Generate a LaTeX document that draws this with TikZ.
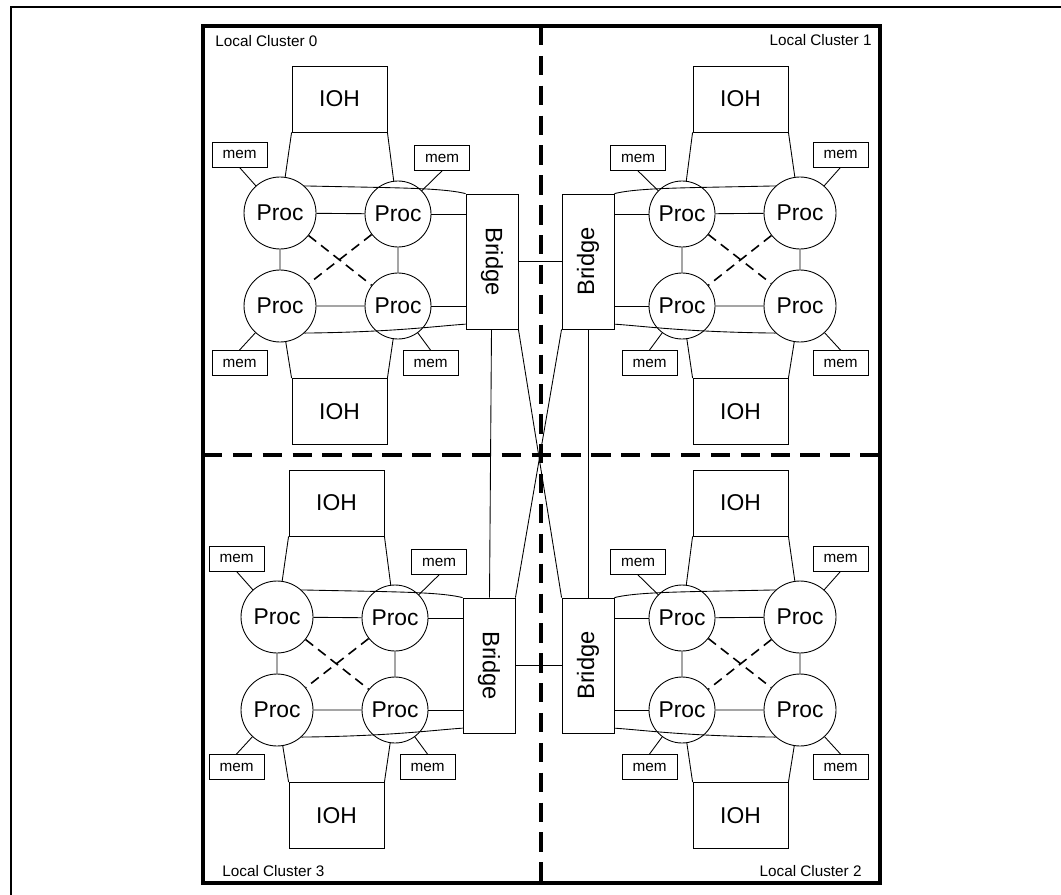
\documentclass[tikz,border=0pt]{standalone}
\usepackage{fontspec}
\setmainfont{Liberation Sans}
\usepackage{graphicx}
\usepackage{tikz}

% one cluster, drawn with the bridge on the right; xscale=-1 mirrors it
\newcommand{\drawcluster}[3]{%
  \ifnum#3<0
    \def\clout{east}\def\clin{west}\def\clrot{90}\def\clup{132}\def\cldn{228}%
  \else
    \def\clout{west}\def\clin{east}\def\clrot{-90}\def\clup{48}\def\cldn{312}%
  \fi
  \begin{scope}[shift={#2}, xscale=#3]
    \node[ioh] (#1ioh1) at (339.5,99) {IOH};
    \node[ioh] (#1ioh2) at (339.5,411.5) {IOH};
    \node[mem] (#1mem1) at (239.5,154.5) {mem};
    \node[mem] (#1mem2) at (442,158) {mem};
    \node[mem] (#1mem3) at (239.5,363) {mem};
    \node[mem] (#1mem4) at (430.5,363) {mem};
    \node[proc, minimum size=1.44cm] (#1proc1) at (280,213) {Proc};
    \node[proc, minimum size=1.32cm] (#1proc2) at (398,214) {Proc};
    \node[proc, minimum size=1.44cm] (#1proc3) at (280,306) {Proc};
    \node[proc, minimum size=1.32cm] (#1proc4) at (398,306) {Proc};
    \node[bridge] (#1br) at (492,261.5) {\rotatebox{\clrot}{Bridge}};
    \draw (#1ioh1.south \clout) -- (#1proc1) (#1ioh1.south \clin) -- (#1proc2);
    \draw (#1ioh2.north \clout) -- (#1proc3) (#1ioh2.north \clin) -- (#1proc4);
    \draw (#1mem1.south) -- (#1proc1) (#1mem2.south) -- (#1proc2);
    \draw (#1mem3.north) -- (#1proc3) (#1mem4.north) -- (#1proc4);
    \draw (#1proc1) -- (#1proc2) -- (#1proc4) -- (#1proc3) -- (#1proc1);
    \draw[crosslink] (#1proc1) -- (#1proc4) (#1proc2) -- (#1proc3);
    \draw (#1proc2) -- (#1proc2 -| #1br.\clout) (#1proc4) -- (#1proc4 -| #1br.\clout);
    \draw (#1proc1.\clup) .. controls +(90,2) and +(-25,-6) .. (#1br.north \clout);
    \draw (#1proc3.\cldn) .. controls +(90,-1) and +(-30,2) .. ([yshift=3pt]#1br.south \clout);
  \end{scope}}

\begin{document}
\begin{tikzpicture}[x=0.02cm, y=-0.02cm, line width=0.5pt,
    unitbox/.style={draw, inner sep=0pt},
    ioh/.style={unitbox, minimum width=1.9cm, minimum height=1.32cm,
                font=\fontsize{13}{15}\selectfont},
    mem/.style={unitbox, minimum width=1.1cm, minimum height=0.5cm,
                font=\fontsize{8.7}{10}\selectfont},
    proc/.style={draw, circle, inner sep=0pt, font=\fontsize{13}{15}\selectfont},
    bridge/.style={unitbox, minimum width=1.04cm, minimum height=2.7cm,
                   font=\fontsize{13.5}{15}\selectfont},
    crosslink/.style={line width=0.9pt, dash pattern=on 5.5pt off 3.5pt},
    divider/.style={line width=2pt, dash pattern=on 11pt off 6pt},
    clname/.style={inner sep=0pt, font=\fontsize{8.7}{10}\selectfont}]
  \useasboundingbox (0,0) rectangle (1061,895);

  % outer page frame (cut off on the right and at the bottom)
  \draw[line width=1.4pt] (11,1000) -- (11,7) -- (1100,7);
  \draw[line width=1.8pt] (203,26) rectangle (880,883);

  \drawcluster{c0}{(0,0)}{1}
  \drawcluster{c1}{(1080,0)}{-1}
  \drawcluster{c2}{(1080,404)}{-1}
  \drawcluster{c3}{(-3,404)}{1}

  % bridges
  \draw (c0br) -- (c1br);
  \draw (c3br) -- (c2br);
  \draw (c0br) -- (c3br);
  \draw (c1br) -- (c2br);
  \draw (c0br.south east) -- (c2br.north west);
  \draw (c1br.south west) -- (c3br.north east);

  \draw[divider] (541,26) -- (541,886);
  \draw[divider] (203,455) -- (880,455);

  \node[clname, anchor=base west] (lc0) at (215,47) {Local Cluster 0};
  \node[clname, anchor=base east] (lc1) at (872,46) {Local Cluster 1};
  \node[clname, anchor=base east] (lc2) at (862,876) {Local Cluster 2};
  \node[clname, anchor=base west] (lc3) at (222,876) {Local Cluster 3};
\end{tikzpicture}
\end{document}
